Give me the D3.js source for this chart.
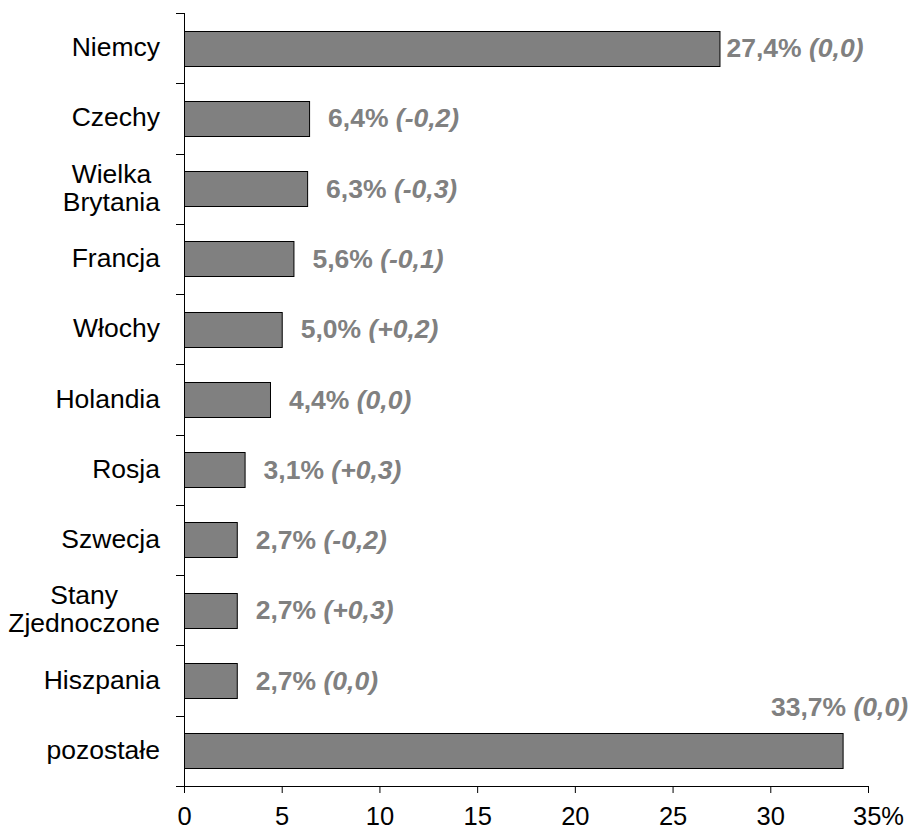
<!DOCTYPE html>
<html>
<head>
<meta charset="utf-8">
<script src="https://cdn.jsdelivr.net/npm/d3@7"></script>
<style>
  html, body { margin: 0; padding: 0; background: #fff; }
  svg { display: block; font-family: "Liberation Sans", Arial, sans-serif; }
</style>
</head>
<body>
<svg id="chart" width="912" height="829"></svg>
<script>
// Udział krajów w eksporcie (%), w nawiasie zmiana w p.p.
const categories = ["Niemcy", "Czechy", "Wielka\nBrytania", "Francja", "Włochy", "Holandia",
                    "Rosja", "Szwecja", "Stany\nZjednoczone", "Hiszpania", "pozostałe"];
const shares  = [27.4, 6.4, 6.3, 5.6, 5.0, 4.4, 3.1, 2.7, 2.7, 2.7, 33.7];
const changes = [0.0, -0.2, -0.3, -0.1, 0.2, 0.0, 0.3, -0.2, 0.3, 0.0, 0.0];
const xTicks  = [0, 5, 10, 15, 20, 25, 30, 35];

const W = 912, H = 829;
const margin = { top: 13, right: 44, bottom: 43, left: 184 };
const innerW = W - margin.left - margin.right;
const innerH = H - margin.top - margin.bottom;

const svg = d3.select("#chart");
const g = svg.append("g").attr("transform", `translate(${margin.left},${margin.top})`);

const x = d3.scaleLinear().domain([0, 35]).range([0, innerW]);
const y = d3.scaleBand().domain(categories).range([0, innerH]).paddingInner(0.5).paddingOuter(0.25);

const fmt = v => v.toFixed(1).replace(".", ",");
const fmtChange = v => (v > 0 ? "+" : v < 0 ? "-" : "") + fmt(Math.abs(v));

const rows = categories.map((c, i) => ({ cat: c, value: shares[i], change: changes[i] }));

// Bars
g.selectAll("rect.bar").data(rows).join("rect")
  .attr("class", "bar")
  .attr("x", x(0) + 0.5)
  .attr("y", d => Math.round(y(d.cat)) + 0.5)
  .attr("width", d => x(d.value) - x(0))
  .attr("height", Math.round(y.bandwidth()))
  .attr("fill", "#808080")
  .attr("stroke", "#000")
  .attr("stroke-width", 1);

// Value labels
const lbl = g.selectAll("text.val").data(rows).join("text")
  .attr("class", "val")
  .attr("fill", "#808080")
  .attr("font-weight", "bold")
  .attr("font-size", 26.5);
lbl.append("tspan").text(d => fmt(d.value) + "% ");
lbl.append("tspan").attr("font-style", "italic").text(d => "(" + fmtChange(d.change) + ")");
lbl.each(function (d) {
  const t = d3.select(this);
  const len = this.getComputedTextLength();
  const cy = y(d.cat) + y.bandwidth() / 2;
  const gap = d.value > 20 ? 7 : 19;
  if (x(d.value) + gap + len > innerW + margin.right - 4) {
    // not enough room to the right: put the label above the bar, flush right
    t.attr("text-anchor", "end").attr("x", innerW + margin.right - 4).attr("y", y(d.cat) - 17);
  } else {
    t.attr("x", x(d.value) + gap).attr("y", cy + 9);
  }
});

// Y axis: line with ticks on category boundaries
const yAxis = g.append("g");
yAxis.append("line").attr("x1", 0.5).attr("x2", 0.5).attr("y1", 0).attr("y2", innerH)
  .attr("stroke", "#000").attr("stroke-width", 1);
const bounds = d3.range(categories.length + 1).map(i => i * innerH / categories.length);
yAxis.selectAll("line.tick").data(bounds).join("line")
  .attr("class", "tick")
  .attr("x1", -8).attr("x2", 0.5)
  .attr("y1", d => Math.round(d) + 0.5).attr("y2", d => Math.round(d) + 0.5)
  .attr("stroke", "#000").attr("stroke-width", 1);

// Category labels (multi-line labels centred within a right-aligned block)
const labelRight = -24;
categories.forEach(c => {
  const lines = c.split("\n");
  const cy = y(c) + y.bandwidth() / 2;
  const t = g.append("text").attr("font-size", 26.5).attr("fill", "#000");
  const lh = 28;
  const y0 = cy - (lines.length - 1) * lh / 2 + 8;
  const spans = lines.map((ln, i) => t.append("tspan").attr("y", y0 + i * lh).text(ln));
  if (lines.length === 1) {
    t.attr("text-anchor", "end");
    spans[0].attr("x", labelRight);
  } else {
    const maxW = d3.max(spans, s => s.node().getComputedTextLength());
    t.attr("text-anchor", "middle");
    spans.forEach(s => s.attr("x", labelRight - maxW / 2));
  }
});

// X axis
const xAxis = g.append("g").attr("transform", `translate(0,${innerH})`)
  .call(d3.axisBottom(x).tickValues(xTicks).tickSize(7).tickSizeOuter(0)
    .tickFormat(d => d === 35 ? "35%" : String(d)));
xAxis.select(".domain").attr("d", `M-8,0.5H${innerW + 0.5}`).attr("stroke", "#000");
xAxis.selectAll(".tick line").attr("stroke", "#000");
xAxis.selectAll(".tick text")
  .attr("font-size", 25.5).attr("font-family", "Liberation Sans, Arial, sans-serif")
  .attr("fill", "#000").attr("dy", 0).attr("y", 39)
  .attr("dx", d => d === 35 ? 10 : 0);
</script>
</body>
</html>
